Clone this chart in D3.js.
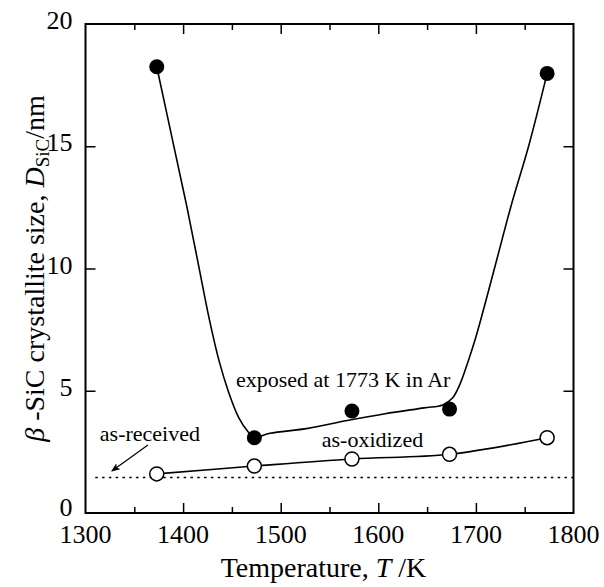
<!DOCTYPE html>
<html><head><meta charset="utf-8">
<script src="https://cdn.jsdelivr.net/npm/d3@7"></script>
</head>
<body style="margin:0">
<svg id="chart" width="604" height="587" font-family="Liberation Serif" style="font-family:'Liberation Serif'"></svg>
<script>
// ---- data ----
const temperatures = [1373, 1473, 1573, 1673, 1773];
const exposedSize = [18.25, 3.08, 4.17, 4.25, 17.98];
const oxidizedSize = [1.6, 1.92, 2.21, 2.4, 3.08];
// fitted guide curve through the exposed data
const exposedFitT = [1373, 1390, 1404, 1416, 1427, 1437, 1447, 1457, 1466, 1473, 1489, 1528, 1568, 1607, 1647, 1666, 1676, 1684, 1692, 1700, 1709, 1719, 1737, 1754, 1773];
const exposedFitV = [18.25, 15.1, 12.5, 10.1, 7.9, 6.2, 4.9, 3.9, 3.35, 3.1, 3.26, 3.46, 3.78, 4.06, 4.3, 4.42, 4.7, 5.3, 6.2, 7.2, 8.5, 10, 12.7, 15, 17.98];
const asReceivedSize = 1.45;
const xTicks = [1300, 1400, 1500, 1600, 1700, 1800];
const xMinorTicks = [1350, 1450, 1550, 1650, 1750];
const yTicks = [0, 5, 10, 15, 20];
const xDomain = [1300, 1800];
const yDomain = [0, 20];
const asReceivedStart = 1310;
const labels = [
  {text: "exposed at 1773 K in Ar", T: 1564, v: 5.15},
  {text: "as-oxidized", T: 1594, v: 2.7},
  {text: "as-received", T: 1366, v: 2.94}
];
const arrowFrom = [1364, 2.78];
const arrowTo = [1327, 1.72];

const FONT = "Liberation Serif";
function serif(sel) {
  return sel.attr("font-family", FONT).style("font-family", `"${FONT}"`);
}

// ---- layout ----
const svg = d3.select("#chart");
const L = 85.5, R = 573.5, T = 24, B = 513;
const x = d3.scaleLinear().domain(xDomain).range([L, R]);
const y = d3.scaleLinear().domain(yDomain).range([B, T]);

// axes with inward ticks (lines only)
const gx = svg.append("g").attr("transform", `translate(0,${B})`)
  .call(d3.axisBottom(x).tickValues(xTicks.slice(1, -1)).tickSize(-10).tickFormat(""));
const gxm = svg.append("g").attr("transform", `translate(0,${B})`)
  .call(d3.axisBottom(x).tickValues(xMinorTicks).tickSize(-6).tickFormat(""));
const gxt = svg.append("g").attr("transform", `translate(0,${T})`)
  .call(d3.axisTop(x).tickValues(xTicks.slice(1, -1)).tickSize(-10).tickFormat(""));
const gxtm = svg.append("g").attr("transform", `translate(0,${T})`)
  .call(d3.axisTop(x).tickValues(xMinorTicks).tickSize(-6).tickFormat(""));
const gy = svg.append("g").attr("transform", `translate(${L},0)`)
  .call(d3.axisLeft(y).tickValues(yTicks.slice(1, -1)).tickSize(-10).tickFormat(""));
const gyr = svg.append("g").attr("transform", `translate(${R},0)`)
  .call(d3.axisRight(y).tickValues(yTicks.slice(1, -1)).tickSize(-10).tickFormat(""));
[gx, gxm, gxt, gxtm, gy, gyr].forEach(g => {
  g.attr("font-family", null);
  g.select(".domain").remove();
  g.selectAll("text").remove();
  g.selectAll("line").attr("stroke", "#000").attr("stroke-width", 1.5);
});

// tick labels
serif(svg.append("g").selectAll("text").data(xTicks).join("text"))
  .attr("font-size", 26)
  .attr("x", d => x(d)).attr("y", B + 30)
  .attr("text-anchor", "middle").text(d => d);
serif(svg.append("g").selectAll("text").data(yTicks).join("text"))
  .attr("font-size", 26)
  .attr("x", L - 13).attr("y", d => y(d) + (d === 0 ? 3 : 5))
  .attr("text-anchor", "end").text(d => d);

// frame
svg.append("rect").attr("x", x(xDomain[0])).attr("y", y(yDomain[1]))
  .attr("width", x(xDomain[1]) - x(xDomain[0])).attr("height", y(yDomain[0]) - y(yDomain[1]))
  .attr("fill", "none").attr("stroke", "#000").attr("stroke-width", 2);

// as-received dotted line
svg.append("line")
  .attr("x1", x(asReceivedStart)).attr("x2", x(xDomain[1]))
  .attr("y1", y(asReceivedSize)).attr("y2", y(asReceivedSize))
  .attr("stroke", "#000").attr("stroke-width", 1.6).attr("stroke-dasharray", "2.5,4.3");

// curves
const line = d3.line().x(d => x(d[0])).y(d => y(d[1])).curve(d3.curveCatmullRom.alpha(0.5));
const exposedPts = temperatures.map((t, i) => [t, exposedSize[i]]);
const oxidizedPts = temperatures.map((t, i) => [t, oxidizedSize[i]]);
const fitPts = exposedFitT.map((t, i) => [t, exposedFitV[i]]);
svg.append("path").attr("d", line(fitPts)).attr("fill", "none").attr("stroke", "#000").attr("stroke-width", 1.6);
svg.append("path").attr("d", line(oxidizedPts)).attr("fill", "none").attr("stroke", "#000").attr("stroke-width", 1.6);

// markers
svg.append("g").selectAll("circle").data(exposedPts).join("circle")
  .attr("cx", d => x(d[0])).attr("cy", d => y(d[1])).attr("r", 7.5).attr("fill", "#000");
svg.append("g").selectAll("circle").data(oxidizedPts).join("circle")
  .attr("cx", d => x(d[0])).attr("cy", d => y(d[1])).attr("r", 7)
  .attr("fill", "#fff").attr("stroke", "#000").attr("stroke-width", 1.5);

// annotations
labels.forEach(l => {
  serif(svg.append("text")).attr("font-size", 22)
    .attr("x", x(l.T)).attr("y", y(l.v))
    .attr("text-anchor", "middle").text(l.text);
});
// arrow
const defs = svg.append("defs");
defs.append("marker").attr("id", "ah").attr("viewBox", "0 0 10 10")
  .attr("refX", 9).attr("refY", 5).attr("markerWidth", 9).attr("markerHeight", 9)
  .attr("markerUnits", "userSpaceOnUse").attr("orient", "auto")
  .append("path").attr("d", "M0,1 L10,5 L0,9 L2.5,5 Z").attr("fill", "#000");
svg.append("line")
  .attr("x1", x(arrowFrom[0])).attr("y1", y(arrowFrom[1]))
  .attr("x2", x(arrowTo[0])).attr("y2", y(arrowTo[1]))
  .attr("stroke", "#000").attr("stroke-width", 1.2).attr("marker-end", "url(#ah)");

// axis titles
const xt = serif(svg.append("text")).attr("font-size", 28)
  .attr("x", (L + R) / 2 - 6).attr("y", 577).attr("text-anchor", "middle");
serif(xt.append("tspan")).text("Temperature, ");
serif(xt.append("tspan")).attr("font-style", "italic").text("T");
serif(xt.append("tspan")).text(" /K");

const yt = serif(svg.append("text")).attr("font-size", 28)
  .attr("transform", `translate(44,${(T + B) / 2}) rotate(-90)`)
  .attr("text-anchor", "middle");
serif(yt.append("tspan")).attr("font-style", "italic").text("β");
serif(yt.append("tspan")).text(" -SiC crystallite size, ");
serif(yt.append("tspan")).attr("font-style", "italic").text("D");
serif(yt.append("tspan")).attr("font-size", 19).attr("dy", 5).text("SiC");
serif(yt.append("tspan")).attr("dy", -5).text("/nm");
</script>
</body></html>
